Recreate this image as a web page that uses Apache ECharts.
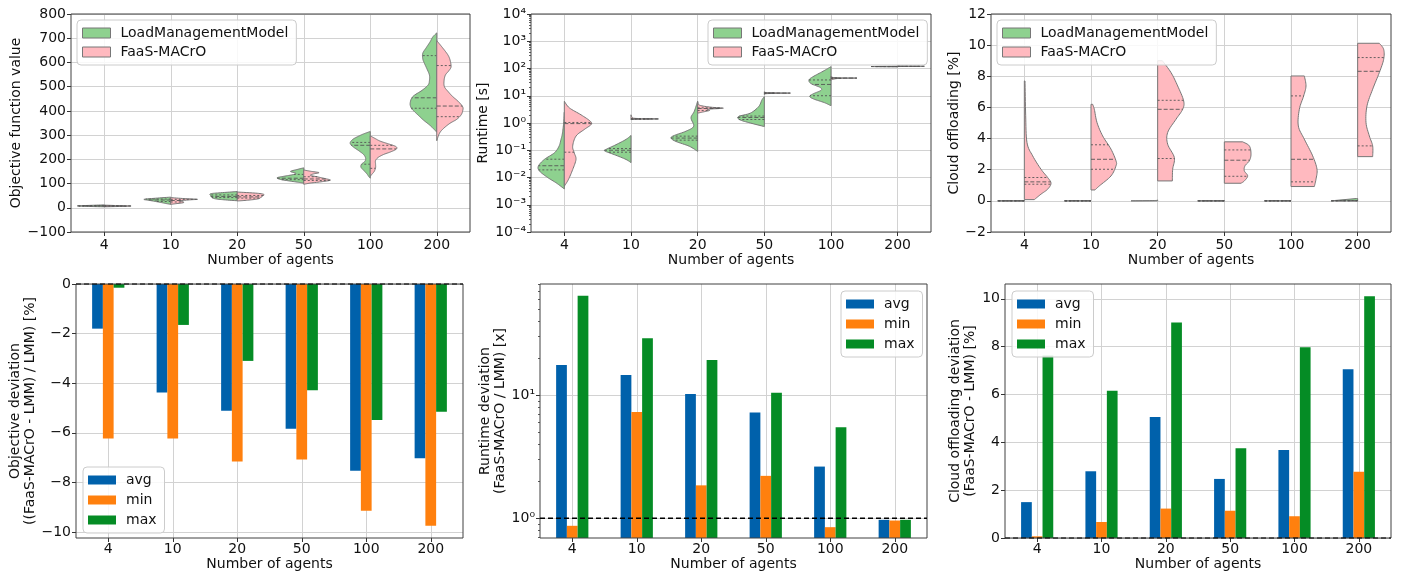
<!DOCTYPE html>
<html>
<head>
<meta charset="utf-8">
<script src="https://cdn.jsdelivr.net/npm/echarts@6/dist/echarts.min.js"></script>
<style>
  html, body { margin: 0; padding: 0; background: #ffffff; }
  #chart { width: 1414px; height: 574px; }
</style>
</head>
<body>
<div id="chart"></div>
<script>
// ---------------- data ----------------
const agents = ['4', '10', '20', '50', '100', '200'];
const agentIndex = agents.map((_, i) => i);

// Half-violin outlines: [value, half width in category units], listed from top to bottom.
// Quartiles: [Q1, median, Q3].

// Objective function value
const objLmmShape = [
  [[12, 0], [10, 0.2], [8, 0.40], [6, 0.3], [4, 0]],
  [[44, 0], [40, 0.2], [35, 0.40], [31, 0.33], [27, 0.25], [22, 0.15], [18, 0.08], [14, 0]],
  [[67, 0], [62, 0.25], [58, 0.40], [50, 0.40], [42, 0.38], [37, 0.33], [33, 0.2], [29, 0]],
  [[165, 0], [158, 0.1], [150, 0.2], [143, 0.12], [137, 0.16], [130, 0.3], [124, 0.40], [117, 0.35], [110, 0.2], [104, 0.05], [101, 0]],
  [[315, 0], [305, 0.1], [295, 0.18], [283, 0.26], [270, 0.3], [260, 0.29], [248, 0.24], [235, 0.17], [220, 0.1], [205, 0.07], [192, 0.08], [180, 0.13], [168, 0.14], [155, 0.1], [140, 0.05], [128, 0.02], [122, 0]],
  [[722, 0], [705, 0.06], [685, 0.1], [660, 0.16], [638, 0.21], [615, 0.21], [596, 0.185], [575, 0.15], [548, 0.11], [525, 0.11], [507, 0.13], [485, 0.22], [459, 0.36], [431, 0.40], [410, 0.38], [397, 0.335], [380, 0.27], [362, 0.2], [340, 0.1], [321, 0.03], [312, 0]]
];
const objLmmQuart = [[7, 8, 9], [26, 32, 36], [42, 47, 53], [116, 122, 138], [180, 258, 270], [411, 454, 628]];

const objFaasShape = [
  [[11, 0], [9, 0.2], [7.5, 0.40], [6, 0.3], [4, 0]],
  [[42, 0], [38, 0.2], [35, 0.40], [33, 0.3], [29, 0.14], [25, 0.18], [21, 0.19], [17, 0.08], [14, 0]],
  [[65, 0], [60, 0.3], [55, 0.40], [48, 0.38], [42, 0.35], [38, 0.33], [34, 0.25], [30, 0.1], [28, 0]],
  [[156, 0], [150, 0.12], [145, 0.23], [140, 0.15], [134, 0.1], [128, 0.2], [120, 0.33], [114, 0.40], [108, 0.28], [102, 0.1], [97, 0]],
  [[297, 0], [285, 0.08], [275, 0.15], [265, 0.26], [255, 0.37], [248, 0.40], [240, 0.38], [230, 0.3], [220, 0.2], [208, 0.12], [195, 0.08], [180, 0.08], [165, 0.08], [150, 0.06], [140, 0.03], [130, 0]],
  [[690, 0], [670, 0.06], [651, 0.115], [630, 0.17], [610, 0.2], [582, 0.215], [565, 0.18], [548, 0.13], [525, 0.11], [500, 0.115], [480, 0.17], [459, 0.24], [440, 0.32], [417, 0.39], [400, 0.39], [383, 0.365], [365, 0.3], [349, 0.2], [327, 0.1], [307, 0.04], [277, 0]]
];
const objFaasQuart = [[6.5, 7.5, 8.5], [24, 30, 35], [40, 45, 51], [113, 119, 128], [163, 243, 258], [376, 420, 587]];

// Runtime [s]
const runLmmShape = [
  [[2.5, 0], [1, 0.01], [0.4, 0.03], [0.25, 0.05], [0.14, 0.08], [0.08, 0.15], [0.046, 0.3], [0.026, 0.39], [0.017, 0.37], [0.01, 0.25], [0.0063, 0.12], [0.0038, 0]],
  [[0.35, 0], [0.25, 0.075], [0.16, 0.225], [0.107, 0.375], [0.093, 0.39], [0.069, 0.25], [0.046, 0.075], [0.035, 0]],
  [[6.3, 0], [2.7, 0.05], [1.55, 0.1], [0.76, 0.06], [0.5, 0.175], [0.35, 0.35], [0.28, 0.40], [0.21, 0.325], [0.14, 0.125], [0.091, 0]],
  [[9.3, 0], [7.1, 0.035], [4.0, 0.085], [2.3, 0.21], [1.74, 0.385], [1.32, 0.37], [1.0, 0.21], [0.74, 0]],
  [[117, 0], [79, 0.12], [50, 0.27], [38, 0.33], [28, 0.3], [20, 0.16], [15.8, 0.15], [12, 0.26], [9.5, 0.32], [7.6, 0.26], [5.6, 0.1], [4.3, 0]],
  [[122, 0], [118, 0.40], [115, 0]]
];
const runLmmQuart = [[0.019, 0.027, 0.047], [0.085, 0.1, 0.115], [0.235, 0.28, 0.33], [1.35, 1.6, 1.8], [10, 26, 38], [117, 118, 119]];

const runFaasShape = [
  [[6.3, 0], [3.6, 0.075], [2.0, 0.25], [1.16, 0.39], [0.87, 0.40], [0.58, 0.3], [0.33, 0.175], [0.14, 0.125], [0.079, 0.15], [0.046, 0.175], [0.0195, 0.125], [0.0083, 0.06], [0.0048, 0]],
  [[2.0, 0], [1.6, 0.02], [1.47, 0.08], [1.41, 0.41], [1.36, 0.05], [1.3, 0]],
  [[6.0, 0], [4.5, 0.03], [3.8, 0.2], [3.5, 0.385], [3.2, 0.15], [2.9, 0.18], [2.6, 0.1], [2.3, 0]],
  [[14, 0], [13, 0.05], [12.5, 0.39], [12, 0.05], [11, 0]],
  [[52, 0], [46, 0.06], [44.5, 0.39], [43, 0.1], [38, 0]],
  [[125, 0], [121, 0.40], [118, 0]]
];
const runFaasQuart = [[0.085, 0.95, 1.05], [1.39, 1.41, 1.43], [2.9, 3.4, 3.6], [12.2, 12.5, 12.8], [43.5, 44.5, 45.5], [120, 121, 122]];

// Cloud offloading [%]
const cloudLmmShape = [
  [[0, 0.40]],
  [[0, 0.40]],
  [[0.06, 0], [0.02, 0.05], [0, 0.40]],
  [[0, 0.40]],
  [[0, 0.40]],
  [[0.15, 0.02], [0, 0.40]]
];
const cloudLmmQuart = [[0, 0, 0], [0, 0, 0], [0, 0, 0], [0, 0, 0], [0, 0, 0], [0, 0, 0.02]];

const cloudFaasShape = [
  [[7.7, 0.01], [5.5, 0.02], [3.74, 0.04], [2.89, 0.125], [2.03, 0.25], [1.5, 0.35], [1.13, 0.40], [0.75, 0.35], [0.43, 0.25], [0.08, 0.15]],
  [[6.2, 0.025], [5.88, 0.05], [5.03, 0.09], [4.17, 0.175], [3.32, 0.3], [2.57, 0.375], [2.25, 0.375], [1.6, 0.3], [0.96, 0.125], [0.7, 0.06]],
  [[9.0, 0.07], [8.24, 0.2], [7.38, 0.3], [6.42, 0.39], [5.88, 0.375], [5.24, 0.275], [4.39, 0.15], [3.64, 0.15], [2.78, 0.25], [2.03, 0.225], [1.28, 0.22]],
  [[3.79, 0.275], [3.53, 0.375], [3.0, 0.40], [2.57, 0.375], [2.25, 0.31], [1.93, 0.3], [1.6, 0.35], [1.28, 0.3], [1.13, 0.25]],
  [[8.02, 0.2], [7.38, 0.225], [6.74, 0.19], [5.88, 0.125], [4.81, 0.11], [3.96, 0.2], [2.89, 0.325], [2.03, 0.39], [1.39, 0.375], [0.92, 0.35]],
  [[10.12, 0.325], [9.73, 0.39], [9.09, 0.39], [8.24, 0.325], [7.17, 0.225], [6.1, 0.14], [5.03, 0.125], [4.17, 0.175], [3.53, 0.225], [2.84, 0.225]]
];
const cloudFaasQuart = [[1.07, 1.22, 1.5], [2.03, 2.67, 3.6], [2.72, 5.88, 6.46], [1.58, 2.61, 3.27], [1.22, 2.67, 6.74], [3.53, 8.32, 9.2]];

// Deviations between FaaS-MACrO and the LoadManagementModel
const objDevAvg = [-1.80, -4.37, -5.11, -5.84, -7.53, -7.02];
const objDevMin = [-6.23, -6.23, -7.16, -7.08, -9.14, -9.75];
const objDevMax = [-0.15, -1.65, -3.10, -4.28, -5.48, -5.15];

const runDevAvg = [17.6, 14.6, 10.25, 7.23, 2.63, 0.97];
const runDevMin = [0.867, 7.3, 1.85, 2.21, 0.845, 0.957];
const runDevMax = [64.6, 29.1, 19.4, 10.5, 5.5, 0.97];

const cloudDevAvg = [1.50, 2.79, 5.06, 2.47, 3.68, 7.06];
const cloudDevMin = [0.07, 0.67, 1.23, 1.14, 0.91, 2.77];
const cloudDevMax = [7.63, 6.16, 9.01, 3.75, 7.98, 10.11];

// axis ticks
const objTicks = [-10, -8, -6, -4, -2, 0];
const runTicks = [1, 10];
const cloudTicks = [0, 2, 4, 6, 8, 10];
const minorSteps = [2, 3, 4, 5, 6, 7, 8, 9];
const runtimeDecades = [-4, -3, -2, -1, 0, 1, 2, 3];
const deviationDecades = [-1, 0, 1];
const objReference = [0];
const runReference = [1];
const cloudReference = [0];

// minor ticks of the logarithmic axes (k x 10^n), kept inside each axis range
function minorTicks(decades, lo, hi) {
  const out = [];
  decades.forEach(n => minorSteps.forEach(k => {
    const v = k * Math.pow(10, n);
    if (v > lo && v < hi) out.push(v);
  }));
  return out;
}

// ---------------- styling ----------------
const FONT = 'DejaVu Sans';
const TEXT = '#111111';
const GREEN = '#8ed18f';
const PINK = '#ffb9bf';
const EDGE = '#777777';
const QLINE = '#555555';
const BLUE = '#0061ab';
const ORANGE = '#ff800e';
const DGREEN = '#058c25';
const GRIDLINE = '#d2d2d2';

const minusSign = v => String(v).replace('-', '\u2212');
const supMap = { '-': '\u207b', '0': '\u2070', '1': '\u00b9', '2': '\u00b2', '3': '\u00b3', '4': '\u2074', '5': '\u2075', '6': '\u2076', '7': '\u2077', '8': '\u2078', '9': '\u2079' };
function decadeLabel(v) {
  const n = Math.round(Math.log10(v));
  if (Math.abs(Math.pow(10, n) - v) > 1e-6 * v) return '';
  return '10' + String(n).split('').map(c => supMap[c]).join('');
}

// Catmull-Rom smoothing of an outline given in pixels, clamped to its own side of the centre line.
function smoothOutline(p, cx, side) {
  if (p.length < 3) return p.slice();
  const out = [p[0]];
  for (let k = 0; k < p.length - 1; k++) {
    const p0 = p[k - 1] || p[k], p1 = p[k], p2 = p[k + 1], p3 = p[k + 2] || p[k + 1];
    for (let s = 1; s <= 8; s++) {
      const t = s / 8, t2 = t * t, t3 = t2 * t;
      const f = (a, b, c, d) => 0.5 * (2 * b + (-a + c) * t + (2 * a - 5 * b + 4 * c - d) * t2 + (-a + 3 * b - 3 * c + d) * t3);
      let x = f(p0[0], p1[0], p2[0], p3[0]);
      const y = f(p0[1], p1[1], p2[1], p3[1]);
      x = side < 0 ? Math.min(x, cx) : Math.max(x, cx);
      out.push([x, y]);
    }
  }
  return out;
}

function edgeAt(pts, y) {
  if (pts.length === 1) return Math.abs(pts[0][1] - y) < 0.5 ? pts[0][0] : null;
  for (let k = 0; k < pts.length - 1; k++) {
    const y0 = pts[k][1], y1 = pts[k + 1][1];
    if ((y - y0) * (y - y1) <= 0 && y0 !== y1) {
      const t = (y - y0) / (y1 - y0);
      return pts[k][0] + t * (pts[k + 1][0] - pts[k][0]);
    }
  }
  return null;
}

function halfViolin(name, color, side, shapes, quarts, gi) {
  return {
    type: 'custom', name, xAxisIndex: gi, yAxisIndex: gi, z: 2,
    itemStyle: { color },
    encode: { x: 0, y: 1 },
    data: shapes.map((s, i) => [i, s[0][0] > 0 ? s[0][0] : 1]),
    renderItem(params, api) {
      const i = api.value(0);
      const shape = shapes[i];
      const unit = api.size([1, 0], [i, 1])[0];
      const top = api.coord([i, shape[0][0]]);
      const bot = api.coord([i, shape[shape.length - 1][0]]);
      const raw = shape.map(([v, w]) => {
        const c = api.coord([i, v]);
        return [c[0] + side * w * unit, c[1]];
      });
      const pts = smoothOutline(raw, top[0], side);
      const poly = [top].concat(pts, [bot]);
      const children = [{
        type: 'polygon', shape: { points: poly },
        style: { fill: color, stroke: EDGE, lineWidth: 1 }
      }];
      quarts[i].forEach((q, k) => {
        const y = api.coord([i, q])[1];
        const x = edgeAt(pts, y);
        if (x === null) return;
        children.push({
          type: 'line', shape: { x1: top[0], y1: y, x2: x, y2: y },
          style: { stroke: QLINE, lineWidth: 0.9, lineDash: k === 1 ? [4, 2] : [2, 2] }
        });
      });
      return { type: 'group', children };
    }
  };
}

function bars(name, color, values, offset, gi, logBase) {
  return {
    type: 'custom', name, xAxisIndex: gi, yAxisIndex: gi, z: 2,
    itemStyle: { color },
    encode: { x: 0, y: 1 },
    data: values.map((v, i) => [i, v]),
    renderItem(params, api) {
      const i = api.value(0), v = api.value(1);
      const unit = api.size([1, 0], [i, v])[0];
      const c = api.coord([i + offset, v]);
      const cs = params.coordSys;
      const base = logBase ? cs.y + cs.height : api.coord([i, 0])[1];
      const w = unit / 6;
      return {
        type: 'rect',
        shape: { x: c[0] - w / 2, y: Math.min(c[1], base), width: w, height: Math.abs(base - c[1]) },
        style: { fill: color }
      };
    }
  };
}

function referenceLine(values, gi, width) {
  return {
    type: 'custom', name: 'reference', xAxisIndex: gi, yAxisIndex: gi, z: 4,
    encode: { x: 0, y: 1 },
    data: values.map(v => [0, v]),
    renderItem(params, api) {
      const cs = params.coordSys;
      const y = api.coord([0, api.value(1)])[1];
      return {
        type: 'line', shape: { x1: cs.x, y1: y, x2: cs.x + cs.width, y2: y },
        style: { stroke: '#000000', lineWidth: width, lineDash: [5, 3] }
      };
    }
  };
}

// ---------------- layout ----------------
const grids = [
  { left: 71, top: 14, width: 399, height: 218 },
  { left: 531, top: 14, width: 400, height: 218 },
  { left: 991, top: 14, width: 400, height: 218 },
  { left: 76, top: 284, width: 387, height: 254 },
  { left: 540, top: 284, width: 387, height: 254 },
  { left: 1005, top: 284, width: 386, height: 254 }
].map(g => Object.assign({
  show: true, borderColor: '#404040', borderWidth: 1, backgroundColor: 'transparent',
  containLabel: false, outerBoundsMode: 'none', z: 3
}, g));

function xAxisFor(gi, labelMargin, nameGap) {
  return {
    type: 'value', gridIndex: gi, min: -0.5, max: 5.5,
    name: 'Number of agents', nameLocation: 'middle', nameGap,
    nameTextStyle: { fontSize: 14, color: TEXT, fontFamily: FONT },
    axisLine: { show: false, onZero: false },
    axisTick: { show: true, inside: false, length: 4, lineStyle: { color: '#333333' }, customValues: agentIndex },
    axisLabel: { fontSize: 14, color: TEXT, fontFamily: FONT, margin: labelMargin, customValues: agentIndex, formatter: v => agents[Math.round(v)] },
    splitLine: { show: true, lineStyle: { color: GRIDLINE, width: 1 } }
  };
}

function yAxisFor(gi, extra) {
  return Object.assign({
    gridIndex: gi, nameLocation: 'middle',
    nameTextStyle: { fontSize: 14, color: TEXT, fontFamily: FONT, lineHeight: 15, align: 'center' },
    axisLine: { show: false, onZero: false },
    splitLine: { show: true, lineStyle: { color: GRIDLINE, width: 1 } }
  }, extra, {
    axisTick: Object.assign({ show: true, inside: false, length: 4, lineStyle: { color: '#333333' } }, extra.axisTick || {}),
    axisLabel: Object.assign({ fontSize: 14, color: TEXT, fontFamily: FONT, margin: 5 }, extra.axisLabel || {})
  });
}

// tick-only companion axis carrying the minor ticks of a log axis
function minorLogAxis(gi, min, max, values) {
  return {
    type: 'log', logBase: 10, gridIndex: gi, min, max, position: 'left',
    axisLine: { show: false, onZero: false },
    axisLabel: { show: false },
    splitLine: { show: false },
    axisTick: { show: true, inside: false, length: 2, lineStyle: { color: '#333333', width: 0.8 }, customValues: values }
  };
}

const yAxes = [
  yAxisFor(0, { type: 'value', min: -100, max: 800, interval: 100, name: 'Objective function value', nameGap: 46,
    axisLabel: { formatter: minusSign } }),
  yAxisFor(1, { type: 'log', logBase: 10, min: 1e-4, max: 1e4, name: 'Runtime [s]', nameGap: 37,
    axisLabel: { formatter: decadeLabel } }),
  yAxisFor(2, { type: 'value', min: -2, max: 12, interval: 2, name: 'Cloud offloading [%]', nameGap: 27,
    axisLabel: { formatter: minusSign } }),
  yAxisFor(3, { type: 'value', min: -10.24, max: 0, name: 'Objective deviation\n((FaaS-MACrO - LMM) / LMM) [%]', nameGap: 35,
    axisTick: { customValues: objTicks }, axisLabel: { customValues: objTicks, formatter: minusSign } }),
  yAxisFor(4, { type: 'log', logBase: 10, min: 0.69, max: 80.4, name: 'Runtime deviation\n(FaaS-MACrO / LMM) [x]', nameGap: 31,
    axisTick: { customValues: runTicks }, axisLabel: { customValues: runTicks, formatter: decadeLabel } }),
  yAxisFor(5, { type: 'value', min: 0, max: 10.62, name: 'Cloud offloading deviation\n(FaaS-MACrO - LMM) [%]', nameGap: 24,
    axisTick: { customValues: cloudTicks }, axisLabel: { customValues: cloudTicks, formatter: minusSign } }),
  minorLogAxis(1, 1e-4, 1e4, minorTicks(runtimeDecades, 1e-4, 1e4)),
  minorLogAxis(4, 0.69, 80.4, minorTicks(deviationDecades, 0.69, 80.4))
];

const xAxes = [
  xAxisFor(0, 6, 18), xAxisFor(1, 6, 18), xAxisFor(2, 6, 18),
  xAxisFor(3, 4.5, 19), xAxisFor(4, 4.5, 19), xAxisFor(5, 4.5, 19)
];

function legendAt(left, top, names, gap, itemH, bordered) {
  return {
    left, top, orient: 'vertical', data: names, selectedMode: false, icon: 'rect',
    itemWidth: 28, itemHeight: itemH, itemGap: gap,
    padding: [6, 8, 6, 5], backgroundColor: 'rgba(255,255,255,0.85)',
    borderColor: '#cccccc', borderWidth: 1, borderRadius: 4,
    textStyle: { fontSize: 14, color: TEXT, fontFamily: FONT, padding: [0, 0, 0, 5] },
    itemStyle: bordered ? { borderColor: EDGE, borderWidth: 1 } : { borderWidth: 0 }
  };
}
const violinNames = ['LoadManagementModel', 'FaaS-MACrO'];
const statNames = ['avg', 'min', 'max'];

const series = [
  halfViolin('LoadManagementModel', GREEN, -1, objLmmShape, objLmmQuart, 0),
  halfViolin('FaaS-MACrO', PINK, 1, objFaasShape, objFaasQuart, 0),
  halfViolin('LoadManagementModel', GREEN, -1, runLmmShape, runLmmQuart, 1),
  halfViolin('FaaS-MACrO', PINK, 1, runFaasShape, runFaasQuart, 1),
  halfViolin('LoadManagementModel', GREEN, -1, cloudLmmShape, cloudLmmQuart, 2),
  halfViolin('FaaS-MACrO', PINK, 1, cloudFaasShape, cloudFaasQuart, 2),

  bars('avg', BLUE, objDevAvg, -1 / 6, 3, false),
  bars('min', ORANGE, objDevMin, 0, 3, false),
  bars('max', DGREEN, objDevMax, 1 / 6, 3, false),
  referenceLine(objReference, 3, 1.2),

  bars('avg', BLUE, runDevAvg, -1 / 6, 4, true),
  bars('min', ORANGE, runDevMin, 0, 4, true),
  bars('max', DGREEN, runDevMax, 1 / 6, 4, true),
  referenceLine(runReference, 4, 1.6),

  bars('avg', BLUE, cloudDevAvg, -1 / 6, 5, false),
  bars('min', ORANGE, cloudDevMin, 0, 5, false),
  bars('max', DGREEN, cloudDevMax, 1 / 6, 5, false),
  referenceLine(cloudReference, 5, 1.0)
];

const chart = echarts.init(document.getElementById('chart'), null, { renderer: 'canvas' });
chart.setOption({
  animation: false,
  backgroundColor: '#ffffff',
  textStyle: { fontFamily: FONT, color: TEXT },
  grid: grids,
  xAxis: xAxes,
  yAxis: yAxes,
  legend: [
    legendAt(77, 20, violinNames, 5, 10, true),
    legendAt(708, 20, violinNames, 5, 10, true),
    legendAt(997, 20, violinNames, 5, 10, true),
    legendAt(83, 467, statNames, 6, 9, false),
    legendAt(841, 291, statNames, 6, 9, false),
    legendAt(1012, 291, statNames, 6, 9, false)
  ],
  series
});
</script>
</body>
</html>
